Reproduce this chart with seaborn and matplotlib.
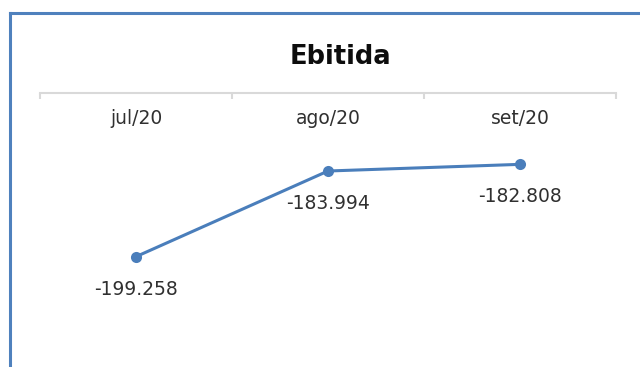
import matplotlib
matplotlib.use("Agg")
import matplotlib.pyplot as plt
from matplotlib.lines import Line2D
import seaborn as sns
import pandas as pd

# Data
categories = ["jul/20", "ago/20", "set/20"]
values = [-199258, -183994, -182808]
title = "Ebitida"

def fmt(v):
    s = f"{abs(v):,}".replace(",", ".")
    return ("-" if v < 0 else "") + s

sns.set_theme(style="white")
plt.rcParams["font.family"] = ["DejaVu Sans"]

W, H = 640, 367
fig = plt.figure(figsize=(W / 100, H / 100), dpi=100)
fig.patch.set_facecolor("white")

# axes: top at y=92.5px, x from 40 to 616 px
ax_top = 92.5
ax_bottom = 373.0
ax = fig.add_axes([40 / W, 1 - ax_bottom / H, (616 - 40) / W, (ax_bottom - ax_top) / H])
ax.set_facecolor("white")

df = pd.DataFrame({"cat": categories, "val": values})
line_color = "#4A7EBB"
sns.lineplot(data=df, x="cat", y="val", ax=ax, color=line_color, linewidth=2.2,
             marker="o", markersize=8, markeredgewidth=0, sort=False)

ax.set_xlim(-0.5, len(categories) - 0.5)
ax.set_ylim(-220000, -170000)
ax.set_xlabel("")
ax.set_ylabel("")
ax.set_yticks([])

for side in ["left", "right", "bottom"]:
    ax.spines[side].set_visible(False)
ax.spines["top"].set_visible(True)
ax.spines["top"].set_color("#D9D9D9")
ax.spines["top"].set_linewidth(1.5)

text_color = "#303030"
ax.set_xticks(range(len(categories)))
ax.set_xticklabels(categories)
ax.tick_params(axis="x", which="major", top=False, bottom=False, labeltop=True,
               labelbottom=False, length=0, pad=-25.5, labelsize=13.5, labelcolor=text_color)
ax.set_xticks([i - 0.5 for i in range(len(categories) + 1)], minor=True)
ax.tick_params(axis="x", which="minor", top=True, bottom=False, direction="in",
               length=4.5, width=1.5, color="#D9D9D9")

for i, v in enumerate(values):
    ax.annotate(fmt(v), (i, v), xytext=(0, -23.5), textcoords="offset points",
                ha="center", va="center", fontsize=13.5, color=text_color)

fig.text(340 / W, 1 - 57 / H, title, ha="center", va="center",
         fontsize=18.5, fontweight="bold", color="#0D0D0D")

# Chart border (left and top visible)
border_color = "#4F81BD"
fig.add_artist(Line2D([9.5 / W, 9.5 / W], [0, 1 - 13 / H], color=border_color,
                      linewidth=2.2, transform=fig.transFigure, solid_capstyle="projecting"))
fig.add_artist(Line2D([9.5 / W, 1.0], [1 - 13 / H, 1 - 13 / H], color=border_color,
                      linewidth=2.2, transform=fig.transFigure, solid_capstyle="projecting"))

fig.savefig("out.png", dpi=100, facecolor="white")
